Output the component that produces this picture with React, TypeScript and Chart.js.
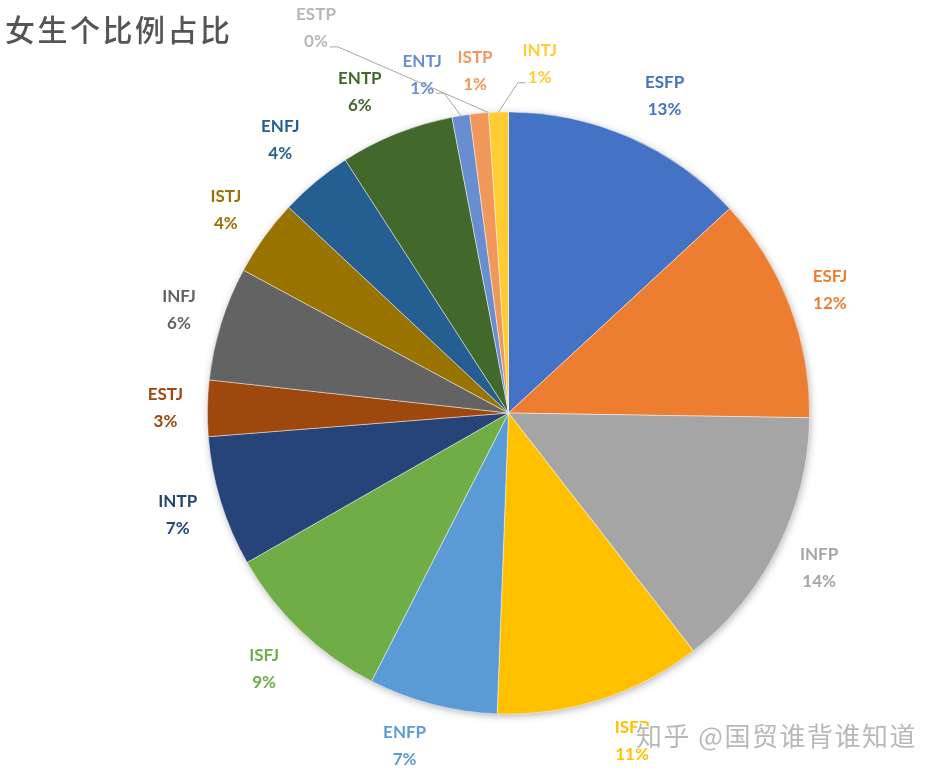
import React, { useEffect, useRef } from 'react';
import { Chart, registerables } from 'chart.js';

Chart.register(...registerables);

const categories = ['ESFP', 'ESFJ', 'INFP', 'ISFP', 'ENFP', 'ISFJ', 'INTP', 'ESTJ', 'INFJ', 'ISTJ', 'ENFJ', 'ENTP', 'ENTJ', 'ISTP', 'ESTP', 'INTJ'];
const shares = [13.1, 12.1, 14.2, 11.1, 6.9, 9.2, 7.0, 3.0, 6.1, 4.1, 3.9, 6.1, 0.95, 1.0, 0, 1.05];
const colors = ['#4472C4', '#ED7D31', '#A5A5A5', '#FFC000', '#5B9BD5', '#70AD47', '#264478', '#9E480E', '#636363', '#997300', '#255E91', '#43682B', '#698ED0', '#F1975A', '#B7B7B7', '#FFCD33'];
const titleText = '女生个比例占比';
const watermarkText = '知乎 @国贸谁背谁知道';

// label placement styles (per slice): extra distance outside the rim, angle shift in degrees, leader line
const labelExtra = [52, 43, 46, 49, 48, 53, 45, 42, 44, 47, 55, 53, 48, 42, 129, 49];
const labelShift = [2.6, 0, 0, -2.8, 2.7, 0, 0, 0, 0, 0, 0, -3, -5.2, 0, -22.8, 7];
const labelLeader = [false, false, false, false, false, false, false, false, false, false, false, false, true, false, true, true];

const LABEL_FONT = 'bold 17px Lato, "Open Sans", sans-serif';

const pieDecor = {
  id: 'pieDecor',
  beforeDatasetsDraw(chart: any) {
    const meta = chart.getDatasetMeta(0);
    if (!meta.data.length) return;
    const { x, y, outerRadius } = meta.data[0].getProps(['x', 'y', 'outerRadius'], true);
    const ctx = chart.ctx;
    ctx.save();
    ctx.shadowColor = 'rgba(0,0,0,0.35)';
    ctx.shadowBlur = 9;
    ctx.shadowOffsetX = 1;
    ctx.shadowOffsetY = 2;
    ctx.beginPath();
    ctx.arc(x, y, outerRadius - 1, 0, Math.PI * 2);
    ctx.fillStyle = '#ffffff';
    ctx.fill();
    ctx.restore();
  },
  afterDatasetsDraw(chart: any) {
    const meta = chart.getDatasetMeta(0);
    const ctx = chart.ctx;
    const data = chart.data.datasets[0].data as number[];
    const total = data.reduce((a, b) => a + b, 0);
    ctx.save();
    ctx.font = LABEL_FONT;
    ctx.textAlign = 'center';
    ctx.textBaseline = 'middle';
    meta.data.forEach((arc: any, i: number) => {
      const { x, y, startAngle, endAngle, outerRadius } = arc.getProps(['x', 'y', 'startAngle', 'endAngle', 'outerRadius'], true);
      const mid = (startAngle + endAngle) / 2;
      const ang = mid + (labelShift[i] * Math.PI) / 180;
      const dist = outerRadius + labelExtra[i];
      const px = x + Math.cos(ang) * dist;
      const py = y + Math.sin(ang) * dist;
      const pct = Math.round((data[i] / total) * 100) + '%';
      ctx.fillStyle = colors[i];
      ctx.fillText(chart.data.labels[i], px, py - 13.5);
      ctx.fillText(pct, px, py + 13.5);
      if (labelLeader[i]) {
        const ex = x + Math.cos(mid) * outerRadius;
        const ey = y + Math.sin(mid) * outerRadius;
        const w = ctx.measureText(pct).width;
        const dir = ex > px ? 1 : -1;
        const ax = px + dir * (w / 2 + 2);
        const ay = py + 13.5 + 5;
        ctx.beginPath();
        ctx.moveTo(ax, ay);
        ctx.lineTo(ax + dir * 8, ay);
        ctx.lineTo(ex, ey);
        ctx.strokeStyle = '#A6A6A6';
        ctx.lineWidth = 1;
        ctx.stroke();
      }
    });
    ctx.restore();
  },
};

export default function App() {
  const ref = useRef<HTMLCanvasElement>(null);
  useEffect(() => {
    document.body.style.margin = '0';
    const chart = new Chart(ref.current as HTMLCanvasElement, {
      type: 'pie',
      data: {
        labels: categories,
        datasets: [
          {
            data: shares,
            backgroundColor: colors,
            borderColor: 'rgba(255,255,255,0.6)',
            borderWidth: 0.75,
            hoverOffset: 0,
          },
        ],
      },
      options: {
        animation: false,
        responsive: false,
        events: [],
        layout: { padding: { left: 207, right: 129, top: 111, bottom: 59 } },
        plugins: { legend: { display: false }, tooltip: { enabled: false } },
      },
      plugins: [pieDecor],
    });
    return () => chart.destroy();
  }, []);
  return (
    <div style={{ position: 'relative', width: 939, height: 774, background: '#fff', overflow: 'hidden' }}>
      <canvas ref={ref} width={939} height={774} style={{ position: 'absolute', left: 0, top: 0 }} />
      <div
        style={{
          position: 'absolute',
          left: 5,
          top: 6,
          fontFamily: '"Noto Sans CJK SC", sans-serif',
          fontSize: 30,
          fontWeight: 500,
          color: '#555555',
          letterSpacing: 2.5,
          lineHeight: '44px',
          whiteSpace: 'nowrap',
        }}
      >
        {titleText}
      </div>
      <div
        style={{
          position: 'absolute',
          left: 636,
          top: 718,
          fontFamily: '"Noto Sans CJK SC", sans-serif',
          fontSize: 26,
          color: '#B8B8B8',
          letterSpacing: 1.5,
          lineHeight: '34px',
          whiteSpace: 'nowrap',
          textShadow: '1px 1px 0 #fff, -1px -1px 0 #fff, 1px -1px 0 #fff, -1px 1px 0 #fff',
        }}
      >
        {watermarkText}
      </div>
    </div>
  );
}
